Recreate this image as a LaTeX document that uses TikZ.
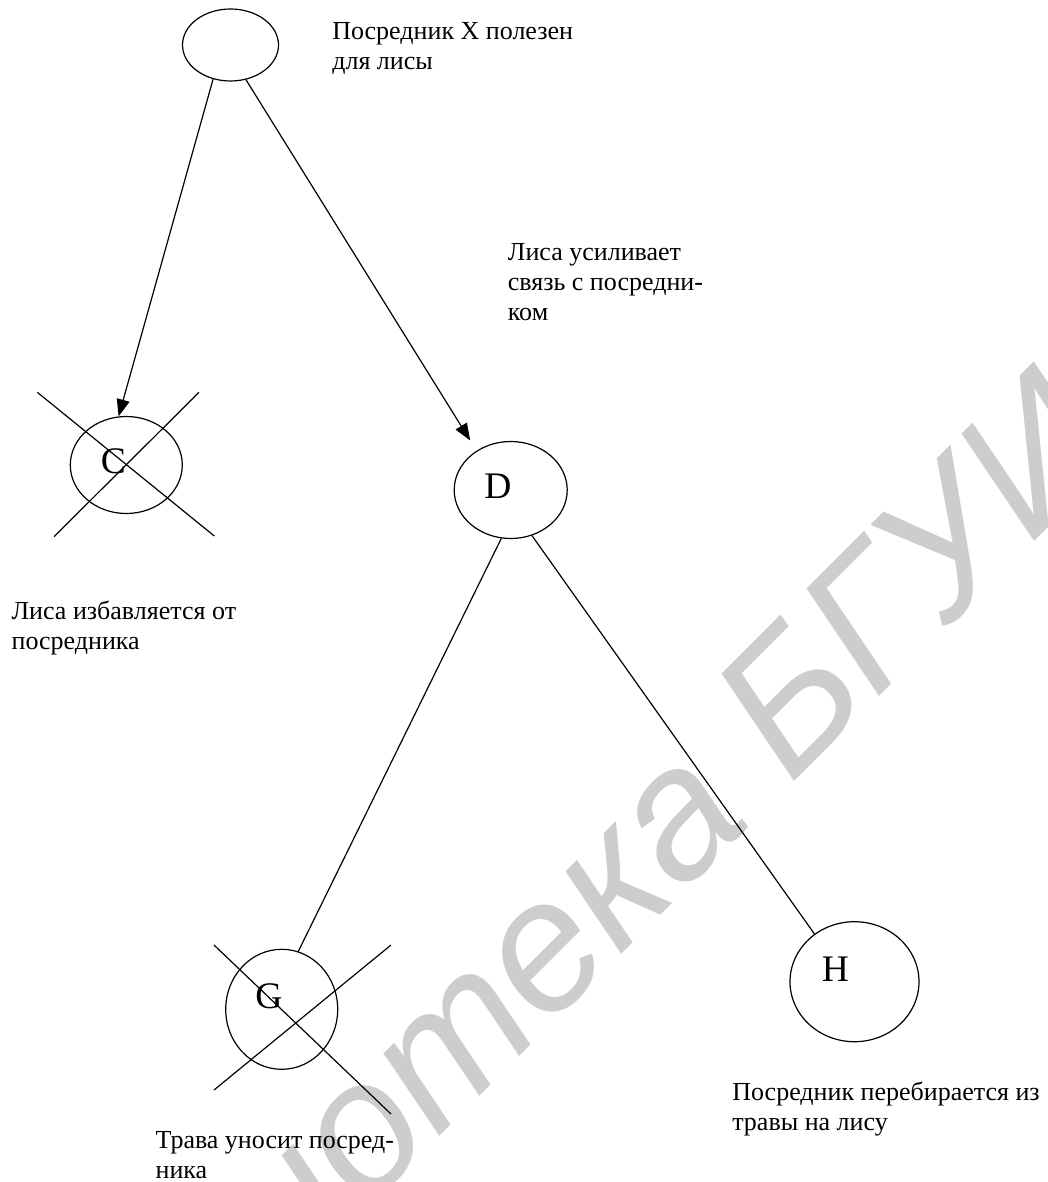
\documentclass[tikz,border=0pt]{standalone}
\usepackage{fontspec}
\setmainfont{Liberation Serif}
\newfontfamily\wmfont{Liberation Sans}
\usetikzlibrary{shapes.geometric,arrows.meta,calc}
\definecolor{wmgray}{RGB}{205,205,205}
\newlength\wmoff
\newcommand\notetext[1]{\begin{tabular}[t]{@{}l@{}}#1\end{tabular}}
\newcommand\wmstyle{\wmfont\itshape\fontsize{185}{185}\selectfont}
\begin{document}
\settowidth{\wmoff}{\wmstyle Библиотека\ }
\begin{tikzpicture}[x=1pt, y=-1pt, line width=1.2pt,
  state/.style={ellipse, draw, inner sep=0pt},
  letter/.style={font=\fontsize{37.5}{40}\selectfont, inner sep=0pt, anchor=base},
  note/.style={font=\fontsize{26}{30}\selectfont, inner sep=0pt, anchor=base west},
  arrowlink/.style={-{Triangle[length=17pt,width=13pt]}},
  wmark/.style={font=\wmstyle, text=wmgray, inner sep=0pt, anchor=base west, rotate=45}]
  \useasboundingbox (0,0) rectangle (1047,1182);
  \clip (0,0) rectangle (1047,1182);

  % library watermark, behind everything
  \coordinate (wmB) at (790,786);
  \node[wmark] (wm) at ($(wmB)+(225:\wmoff)$) {Библиотека БГУИР};

  % states
  \node[state, minimum width=96pt, minimum height=72pt] (A) at (230.5,45) {};
  \node[state, minimum width=112pt, minimum height=97pt] (C) at (126.3,465) {};
  \node[state, minimum width=113pt, minimum height=97pt] (D) at (510.7,490) {};
  \node[state, minimum width=112pt, minimum height=120pt] (G) at (281.7,1009.3) {};
  \node[state, minimum width=129pt, minimum height=120pt] (H) at (854.5,981.7) {};

  \node[letter] (Clab) at (113.3,473) {C};
  \node[letter] (Dlab) at (497.8,498.3) {D};
  \node[letter] (Glab) at (269,1008) {G};
  \node[letter] (Hlab) at (835.5,981.7) {H};

  % connectors
  \draw[arrowlink] (A.243.8) -- (C.99);
  \draw[arrowlink, shorten >=12pt] (A.294.8) -- (D.131.7);
  \draw (D.259.4) -- (G.74.4);
  \draw (D.295) -- (H.130.8);

  % strike-through crosses
  \coordinate (C1a) at (37.3,392.3);  \coordinate (C1b) at (214.3,536);
  \coordinate (C2a) at (199,392.3);   \coordinate (C2b) at (54,536.7);
  \draw (C1a) -- (C1b);
  \draw (C2a) -- (C2b);
  \coordinate (G1a) at (214,945);     \coordinate (G1b) at (391,1114);
  \coordinate (G2a) at (391,945);     \coordinate (G2b) at (214,1090);
  \draw (G1a) -- (G1b);
  \draw (G2a) -- (G2b);

  % notes
  \node[note] (nA) at (331.7,40) {\notetext{Посредник X полезен\\для лисы}};
  \node[note] (nD) at (507.3,260.7) {\notetext{Лиса усиливает\\связь с посредни-\\ком}};
  \node[note] (nC) at (11,619.3) {\notetext{Лиса избавляется от\\посредника}};
  \node[note] (nG) at (155,1148.3) {\notetext{Трава уносит посред-\\ника}};
  \node[note] (nH) at (731.7,1100) {\notetext{Посредник перебирается из\\травы на лису}};
\end{tikzpicture}
\end{document}
